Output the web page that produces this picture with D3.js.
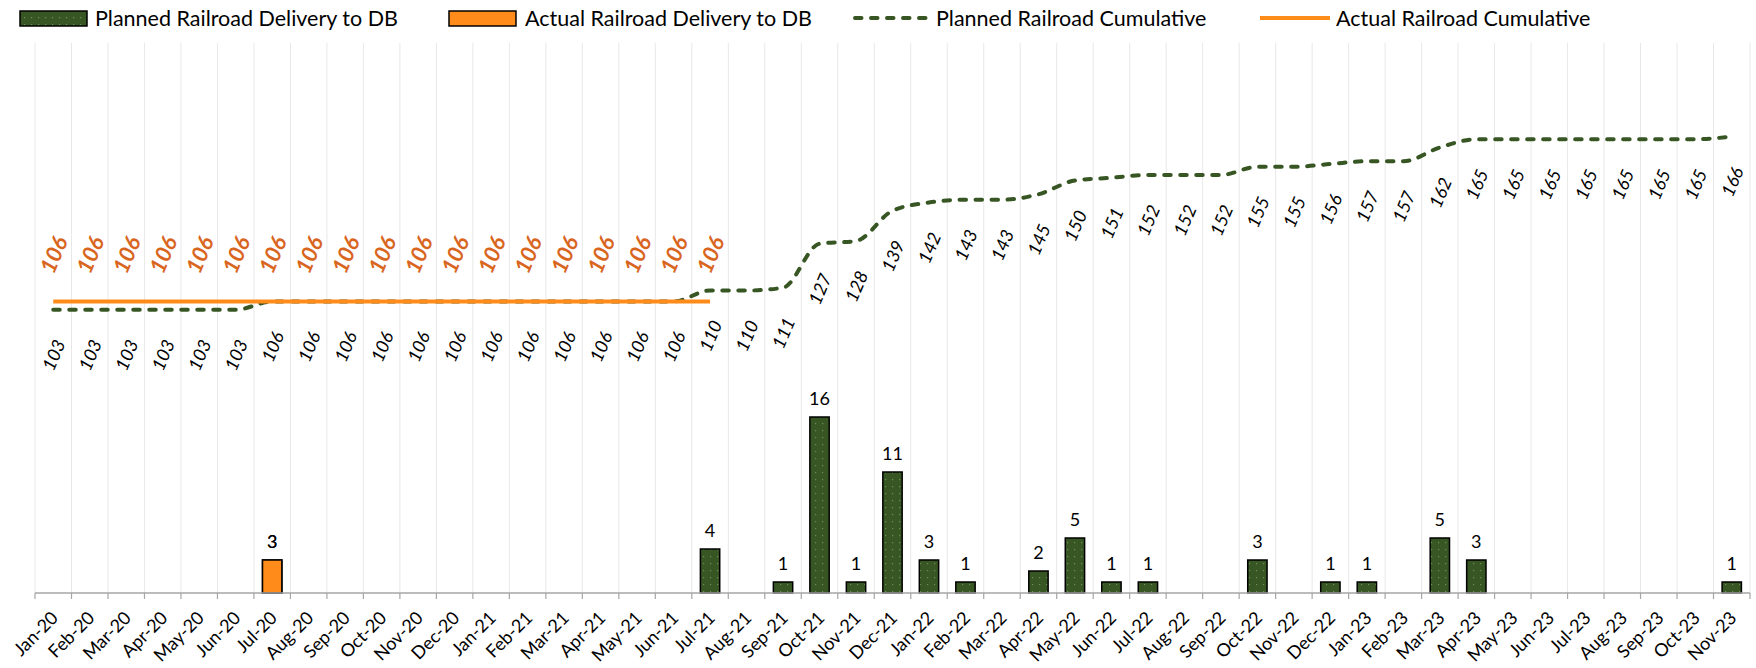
<!DOCTYPE html>
<html>
<head>
<meta charset="utf-8">
<script src="https://cdn.jsdelivr.net/npm/d3@7"></script>
<style>
  html, body { margin: 0; padding: 0; background: #ffffff; }
  svg { display: block; font-family: Lato, "Open Sans", sans-serif; }
</style>
</head>
<body>
<svg id="chart" width="1756" height="668"></svg>
<script>
// ---------------- DATA ----------------
const months = ["Jan-20","Feb-20","Mar-20","Apr-20","May-20","Jun-20","Jul-20","Aug-20","Sep-20","Oct-20","Nov-20","Dec-20",
  "Jan-21","Feb-21","Mar-21","Apr-21","May-21","Jun-21","Jul-21","Aug-21","Sep-21","Oct-21","Nov-21","Dec-21",
  "Jan-22","Feb-22","Mar-22","Apr-22","May-22","Jun-22","Jul-22","Aug-22","Sep-22","Oct-22","Nov-22","Dec-22",
  "Jan-23","Feb-23","Mar-23","Apr-23","May-23","Jun-23","Jul-23","Aug-23","Sep-23","Oct-23","Nov-23"];

const plannedDelivery = [0,0,0,0,0,0,3,0,0,0,0,0,
  0,0,0,0,0,0,4,0,1,16,1,11,
  3,1,0,2,5,1,1,0,0,3,0,1,
  1,0,5,3,0,0,0,0,0,0,1];

const actualDelivery = [0,0,0,0,0,0,3,0,0,0,0,0,
  0,0,0,0,0,0,0,0,0,0,0,0,
  0,0,0,0,0,0,0,0,0,0,0,0,
  0,0,0,0,0,0,0,0,0,0,0];

const plannedCumulative = [103,103,103,103,103,103,106,106,106,106,106,106,
  106,106,106,106,106,106,110,110,111,127,128,139,
  142,143,143,145,150,151,152,152,152,155,155,156,
  157,157,162,165,165,165,165,165,165,165,166];

const actualCumulative = [106,106,106,106,106,106,106,106,106,106,106,106,
  106,106,106,106,106,106,106];

const legendLabels = ["Planned Railroad Delivery to DB","Actual Railroad Delivery to DB",
  "Planned Railroad Cumulative","Actual Railroad Cumulative"];

// ---------------- STYLE ----------------
const GREEN = "#375623";
const ORANGE = "#FF8C1A";
const ORANGE_TEXT = "#D9661F";

const svg = d3.select("#chart");
const plot = { left: 35, right: 1750, top: 43, bottom: 593 };

const defs = svg.append("defs");
const pat = defs.append("pattern")
  .attr("id", "dots").attr("patternUnits", "userSpaceOnUse")
  .attr("width", 7).attr("height", 7);
pat.append("rect").attr("width", 7).attr("height", 7).attr("fill", GREEN);
pat.append("rect").attr("x", 3).attr("y", 3).attr("width", 1.2).attr("height", 1.2).attr("fill", "#6d8f55");

// ---------------- SCALES ----------------
const x = d3.scaleBand().domain(months).range([plot.left, plot.right]).padding(0);
const yBar = d3.scaleLinear().domain([0, 50]).range([plot.bottom, plot.top]);
const yCum = d3.scaleLinear().domain([0, 200]).range([plot.bottom, plot.top]);
const bw = x.bandwidth() * 0.53;
const cx = m => x(m) + x.bandwidth() / 2;

// ---------------- GRIDLINES ----------------
const bounds = months.map(m => x(m)).concat([plot.right]);
svg.append("g").selectAll("line").data(bounds).join("line")
  .attr("x1", d => d).attr("x2", d => d)
  .attr("y1", plot.top).attr("y2", plot.bottom)
  .attr("stroke", "#E8E8E8").attr("stroke-width", 1);

// ---------------- BARS ----------------
const gBars = svg.append("g");
gBars.selectAll("rect.planned").data(months.map((m, i) => ({ m, v: plannedDelivery[i] })).filter(d => d.v > 0))
  .join("rect").attr("class", "planned")
  .attr("x", d => cx(d.m) - bw / 2).attr("width", bw)
  .attr("y", d => yBar(d.v)).attr("height", d => yBar(0) - yBar(d.v))
  .attr("fill", "url(#dots)").attr("stroke", "#000").attr("stroke-width", 1.5);

gBars.selectAll("rect.actual").data(months.map((m, i) => ({ m, v: actualDelivery[i] })).filter(d => d.v > 0))
  .join("rect").attr("class", "actual")
  .attr("x", d => cx(d.m) - bw / 2).attr("width", bw)
  .attr("y", d => yBar(d.v)).attr("height", d => yBar(0) - yBar(d.v))
  .attr("fill", ORANGE).attr("stroke", "#000").attr("stroke-width", 1.5);

// bar labels
const barLabelData = months.map((m, i) => ({ m, v: plannedDelivery[i] })).filter(d => d.v > 0)
  .concat(months.map((m, i) => ({ m, v: actualDelivery[i] })).filter(d => d.v > 0));
svg.append("g").selectAll("text").data(barLabelData).join("text")
  .attr("x", d => cx(d.m)).attr("y", d => yBar(d.v) - 12)
  .attr("text-anchor", "middle").attr("font-size", 18).attr("fill", "#000")
  .text(d => d.v);

// ---------------- AXIS ----------------
const axisG = svg.append("g").attr("transform", `translate(0,${plot.bottom})`)
  .call(d3.axisBottom(x).tickSize(0).tickPadding(0));
axisG.select(".domain").remove();
axisG.append("line").attr("x1", plot.left).attr("x2", plot.right).attr("y1", 0).attr("y2", 0)
  .attr("stroke", "#A6A6A6").attr("stroke-width", 1.5);
axisG.selectAll(".bticks").data(bounds).join("line").attr("class", "bticks")
  .attr("x1", d => d).attr("x2", d => d).attr("y1", 0).attr("y2", 6)
  .attr("stroke", "#A6A6A6").attr("stroke-width", 1.2);
axisG.selectAll(".tick text")
  .attr("font-family", "Lato, sans-serif").attr("font-size", 18).attr("fill", "#000")
  .attr("text-anchor", "end").attr("dy", 0).attr("y", 0)
  .attr("transform", "translate(6,26) rotate(-45)");

// ---------------- LINES ----------------
const linePlanned = d3.line().x((d, i) => cx(months[i])).y(d => yCum(d)).curve(d3.curveMonotoneX);
svg.append("path").datum(plannedCumulative).attr("d", linePlanned)
  .attr("fill", "none").attr("stroke", GREEN).attr("stroke-width", 4)
  .attr("stroke-dasharray", "6.5,9.5").attr("stroke-linecap", "round");

svg.append("path").datum(actualCumulative).attr("d", linePlanned)
  .attr("fill", "none").attr("stroke", ORANGE).attr("stroke-width", 4);

// cumulative labels
svg.append("g").selectAll("text").data(plannedCumulative).join("text")
  .attr("transform", (d, i) => `translate(${cx(months[i])},${yCum(d) + 45}) rotate(-67)`)
  .attr("text-anchor", "middle").attr("dominant-baseline", "central")
  .attr("font-size", 18).attr("font-style", "italic").attr("fill", "#000")
  .text(d => d);

svg.append("g").selectAll("text").data(actualCumulative).join("text")
  .attr("transform", (d, i) => `translate(${cx(months[i])},${yCum(d) - 47}) rotate(-67)`)
  .attr("text-anchor", "middle").attr("dominant-baseline", "central")
  .attr("font-size", 22).attr("font-style", "italic").attr("font-weight", "bold").attr("fill", ORANGE_TEXT)
  .text(d => d);

// ---------------- LEGEND ----------------
const lg = svg.append("g").attr("font-size", 21.5);
const legY = 18;
lg.append("rect").attr("x", 20).attr("y", 11).attr("width", 67).attr("height", 15)
  .attr("fill", "url(#dots)").attr("stroke", "#000").attr("stroke-width", 1.5);
lg.append("text").attr("x", 95).attr("y", legY).attr("dominant-baseline", "central").text(legendLabels[0]);
lg.append("rect").attr("x", 449).attr("y", 11).attr("width", 67).attr("height", 15)
  .attr("fill", ORANGE).attr("stroke", "#000").attr("stroke-width", 1.5);
lg.append("text").attr("x", 525).attr("y", legY).attr("dominant-baseline", "central").text(legendLabels[1]);
lg.append("line").attr("x1", 855).attr("x2", 928).attr("y1", legY).attr("y2", legY)
  .attr("stroke", GREEN).attr("stroke-width", 4).attr("stroke-dasharray", "6.5,9.5").attr("stroke-linecap", "round");
lg.append("text").attr("x", 936).attr("y", legY).attr("dominant-baseline", "central").text(legendLabels[2]);
lg.append("line").attr("x1", 1260).attr("x2", 1330).attr("y1", legY).attr("y2", legY)
  .attr("stroke", ORANGE).attr("stroke-width", 4);
lg.append("text").attr("x", 1336).attr("y", legY).attr("dominant-baseline", "central").text(legendLabels[3]);
</script>
</body>
</html>
